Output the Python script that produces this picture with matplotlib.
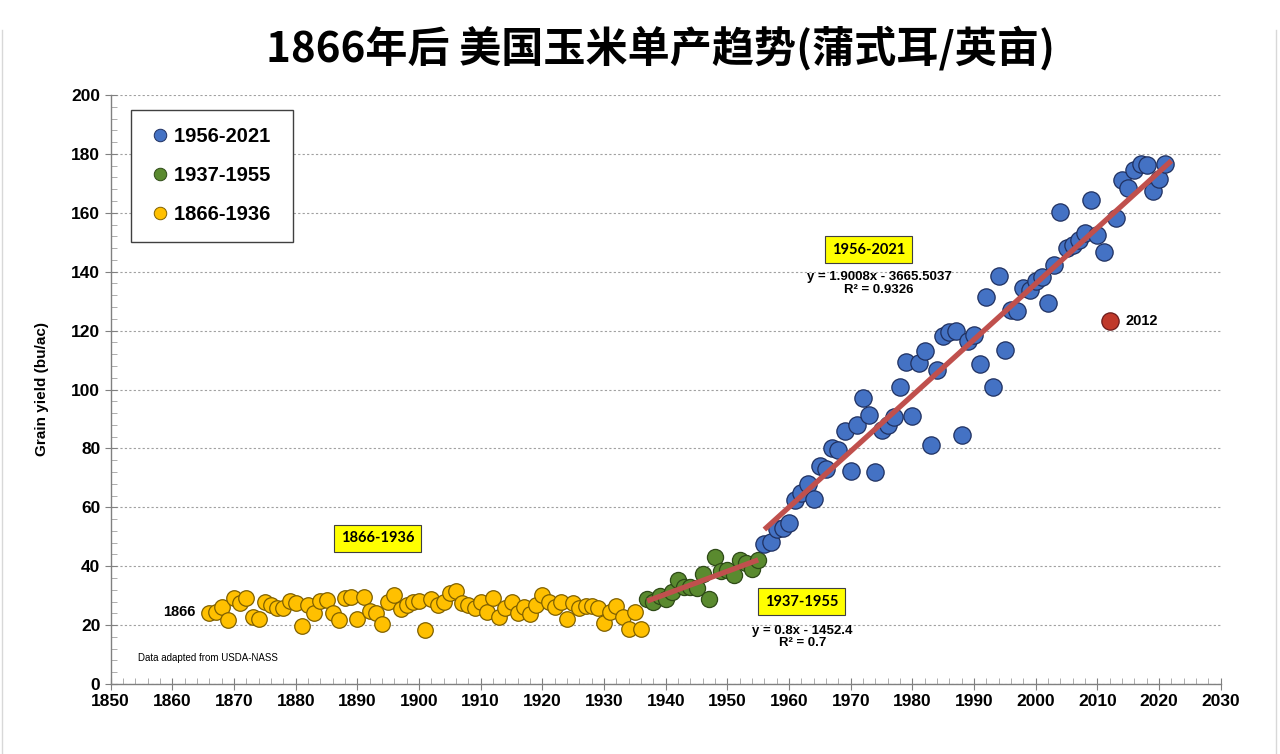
import numpy as np
import matplotlib.pyplot as plt
from matplotlib.ticker import MultipleLocator
from matplotlib.lines import Line2D

plt.rcParams['font.family'] = ['Liberation Sans', 'DejaVu Sans']

# 1866-1936 (bu/ac)
early_years = np.arange(1866, 1937)
early_yield = [24.2, 24.6, 26.0, 21.7, 29.3, 27.4, 29.3, 22.9, 22.1, 27.9,
               26.8, 25.7, 25.9, 28.3, 27.4, 19.7, 26.8, 24.2, 28.3, 28.5,
               24.2, 21.7, 29.1, 29.4, 22.0, 29.4, 24.9, 24.0, 20.3, 27.9,
               30.2, 25.4, 26.8, 27.9, 28.3, 18.3, 28.8, 26.8, 27.9, 30.8,
               31.7, 27.4, 26.8, 25.9, 27.9, 24.3, 29.1, 22.6, 25.7, 27.9,
               24.0, 26.2, 23.8, 26.8, 30.2, 27.9, 26.2, 27.9, 22.0, 27.6,
               25.7, 26.5, 26.5, 25.7, 20.6, 24.6, 26.5, 22.9, 18.7, 24.3,
               18.7]

# 1937-1955
mid_years = np.arange(1937, 1956)
mid_yield = [28.9, 27.7, 29.8, 28.9, 31.2, 35.4, 32.8, 33.0, 32.7, 37.4,
             28.7, 43.1, 38.5, 38.6, 37.0, 42.1, 41.0, 39.2, 42.0]

# 1956-2021
late_years = np.arange(1956, 2022)
late_yield = [47.4, 48.3, 52.8, 53.1, 54.7, 62.4, 64.7, 67.9, 62.9, 74.1,
              73.1, 80.1, 79.5, 85.9, 72.4, 88.1, 97.0, 91.3, 71.9, 86.4,
              88.0, 90.8, 101.0, 109.5, 91.0, 108.9, 113.2, 81.1, 106.7, 118.0,
              119.4, 119.8, 84.6, 116.3, 118.5, 108.6, 131.5, 100.7, 138.6, 113.5,
              127.1, 126.7, 134.4, 133.8, 136.9, 138.2, 129.3, 142.2, 160.3, 147.9,
              149.1, 150.7, 153.3, 164.4, 152.6, 146.8, 123.1, 158.1, 171.0, 168.4,
              174.6, 176.6, 176.4, 167.5, 171.4, 176.7]
drought_year = 2012

early_yield = np.array(early_yield)
mid_yield = np.array(mid_yield)
late_yield = np.array(late_yield)

fig = plt.figure(figsize=(12.8, 7.54), dpi=100)
ax = fig.add_axes([110.7 / 1280, 1 - 684 / 754, 1110 / 1280, 589 / 754])

ax.set_xlim(1850, 2030)
ax.set_ylim(0, 200)
ax.xaxis.set_major_locator(MultipleLocator(10))
ax.xaxis.set_minor_locator(MultipleLocator(2))
ax.yaxis.set_major_locator(MultipleLocator(20))
ax.yaxis.set_minor_locator(MultipleLocator(4))
ax.grid(axis='y', which='major', linestyle=(0, (2, 2)), color='#a0a0a0', lw=0.8)
ax.set_axisbelow(True)
for s in ['top', 'right']:
    ax.spines[s].set_visible(False)
for s in ['left', 'bottom']:
    ax.spines[s].set_color('#808080')
    ax.spines[s].set_linewidth(1.0)
ax.tick_params(which='major', direction='inout', length=8, color='#808080',
               labelsize=12.5)
ax.tick_params(which='minor', direction='in', length=4, color='#a0a0a0')
for lab in ax.get_xticklabels() + ax.get_yticklabels():
    lab.set_fontweight('bold')
ax.set_ylabel('Grain yield (bu/ac)', fontsize=11, fontweight='bold', labelpad=16)

# points
ax.scatter(early_years, early_yield, s=125, color='#FFC000', edgecolor='#7F6000',
           linewidth=0.9, zorder=3)
ax.scatter(mid_years, mid_yield, s=135, color='#5A8A2F', edgecolor='#2E4A17',
           linewidth=0.9, zorder=3)
blue = late_years != drought_year
ax.scatter(late_years[blue], late_yield[blue], s=155, color='#4472C4',
           edgecolor='#1F3060', linewidth=0.9, zorder=3)
ax.scatter(late_years[~blue], late_yield[~blue], s=155, color='#C0392B',
           edgecolor='#6B1A1A', linewidth=0.9, zorder=3)

# trend lines
for yrs, vals, end in [(mid_years, mid_yield, 1955), (late_years, late_yield, 2022)]:
    k, b = np.polyfit(yrs, vals, 1)
    xs = np.array([yrs[0], end])
    ax.plot(xs, k * xs + b, color='#C0504D', lw=3.8, solid_capstyle='butt', zorder=4)

# annotations
box = dict(boxstyle='square,pad=0.45', facecolor='#FFFF00', edgecolor='#404040', lw=0.8)
ax.text(1893.3, 49.5, '1866-1936', fontsize=10.5, fontweight='bold', ha='center',
        va='center', bbox=box, family='Lato')
ax.text(1962.0, 28.0, '1937-1955', fontsize=10.5, fontweight='bold', ha='center',
        va='center', bbox=box, family='Lato')
ax.text(1972.9, 147.5, '1956-2021', fontsize=10.5, fontweight='bold', ha='center',
        va='center', bbox=box, family='Lato')
ax.text(1974.6, 136.0, 'y = 1.9008x - 3665.5037\nR² = 0.9326', fontsize=9.5,
        fontweight='bold', ha='center', va='center', linespacing=1.05)
ax.text(1962.2, 16.0, 'y = 0.8x - 1452.4\nR² = 0.7', fontsize=9.5,
        fontweight='bold', ha='center', va='center', linespacing=1.05)
ax.text(1863.8, 24.4, '1866', fontsize=10.5, fontweight='bold', ha='right', va='center')
ax.text(2014.5, late_yield[~blue][0], '2012', fontsize=10.5, fontweight='bold',
        ha='left', va='center')
ax.text(1854.5, 8.8, 'Data adapted from USDA-NASS', fontsize=7, ha='left', va='center')

handles = [Line2D([], [], marker='o', ls='', ms=9, mfc=c, mec=e, mew=0.7)
           for c, e in [('#4472C4', '#1F3060'), ('#5A8A2F', '#2E4A17'),
                        ('#FFC000', '#7F6000')]]
leg = ax.legend(handles, ['1956-2021 ', '1937-1955 ', '1866-1936 '],
                loc='upper left', bbox_to_anchor=(131 / 1280, 1 - 110 / 754),
                bbox_transform=fig.transFigure, borderaxespad=0, fancybox=False,
                framealpha=1, edgecolor='#404040', prop={'size': 14.5, 'weight': 'bold'},
                labelspacing=1.0, handlelength=1.2, handletextpad=0.1, borderpad=0.85)
leg.get_frame().set_linewidth(1.0)

fig.text(0.516, 0.936, '1866年后 美国玉米单产趋势(蒲式耳/英亩)', ha='center', va='center',
         fontsize=30.3, fontweight='black', family=['Noto Sans CJK SC', 'DejaVu Sans'])

# faint frame at the picture edges
for xf in [2 / 1280, 1276 / 1280]:
    fig.add_artist(Line2D([xf, xf], [0, 0.96], color='#d8d8d8', lw=1.0))

fig.savefig('out.png', dpi=100)
